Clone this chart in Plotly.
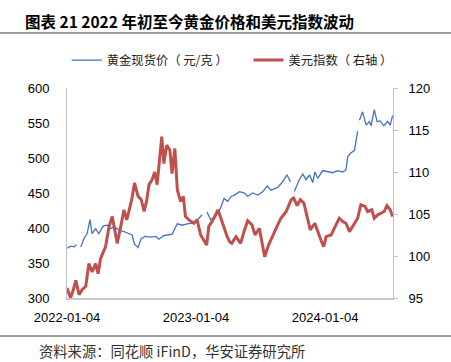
import plotly.graph_objects as go

gold_dates = [
    "2022-01-05", "2022-01-14", "2022-01-24", "2022-01-31", "2022-02-03", "2022-02-12",
    "2022-02-21", "2022-03-02", "2022-03-10", "2022-03-16", "2022-03-26", "2022-04-04",
    "2022-04-17", "2022-04-28", "2022-05-07", "2022-05-17", "2022-05-31", "2022-06-14",
    "2022-06-28", "2022-07-07", "2022-07-14", "2022-07-24", "2022-08-02", "2022-08-14",
    "2022-08-28", "2022-09-12", "2022-09-21", "2022-10-05", "2022-10-14", "2022-10-28",
    "2022-11-12", "2022-11-26", "2022-12-10", "2022-12-24", "2023-01-07", "2023-01-21",
    "2023-01-26", "2023-02-04", "2023-02-14", "2023-02-28", "2023-03-14", "2023-03-24",
    "2023-04-04", "2023-04-13", "2023-04-23", "2023-05-07", "2023-05-21", "2023-05-30",
    "2023-06-13", "2023-06-28", "2023-07-12", "2023-07-24", "2023-08-04", "2023-08-23",
    "2023-09-06", "2023-09-18", "2023-09-28", "2023-10-03", "2023-10-09", "2023-10-23",
    "2023-11-02", "2023-11-11", "2023-11-21", "2023-11-30", "2023-12-06", "2023-12-14",
    "2023-12-28", "2024-01-11", "2024-01-25", "2024-02-09", "2024-02-23", "2024-03-03",
    "2024-03-08", "2024-03-17", "2024-03-27", "2024-04-05", "2024-04-07", "2024-04-10",
    "2024-04-19", "2024-04-29", "2024-05-08", "2024-05-13", "2024-05-22", "2024-05-30",
    "2024-06-08", "2024-06-18", "2024-06-29", "2024-07-06", "2024-07-13",
]
gold_price = [
    371, 374, 373, 376, None, 373,
    385, 392, 412, 392, 399, 392,
    403, 404, 399, 402, 397, 395,
    392, 390, 377, 372, 385, 388,
    387, 388, 384, 389, 390, 391,
    406, 404, 406, 407, 411, 419,
    None, 423, 412, 416, 428, 442,
    438, 445, 447, 452, 450, 445,
    450, 447, 452, 460, 454, 458,
    466, 476, 466, None, 452, 469,
    477, 469, 476, 465, 480, 471,
    482, 480, 479, 482, 480, 483,
    502, 507, 511, 538, None, 554,
    566, 547, 552, 546, 569, 552,
    553, 546, 552, 547, 561,
]

usd_dates = [
    "2022-01-04", "2022-01-14", "2022-01-22", "2022-01-29", "2022-02-07", "2022-02-16",
    "2022-02-26", "2022-03-07", "2022-03-16", "2022-03-26", "2022-04-02", "2022-04-09",
    "2022-04-23", "2022-05-03", "2022-05-12", "2022-05-22", "2022-05-26", "2022-06-05",
    "2022-06-14", "2022-06-22", "2022-06-28", "2022-07-06", "2022-07-14", "2022-07-24",
    "2022-08-02", "2022-08-10", "2022-08-17", "2022-08-24", "2022-09-02", "2022-09-09",
    "2022-09-16", "2022-09-29", "2022-10-05", "2022-10-13", "2022-10-22", "2022-10-28",
    "2022-11-05", "2022-11-12", "2022-11-21", "2022-11-29", "2022-12-05", "2022-12-15",
    "2022-12-29", "2023-01-07", "2023-01-17", "2023-01-26", "2023-02-03", "2023-02-09",
    "2023-02-21", "2023-03-07", "2023-03-19", "2023-04-02", "2023-04-09", "2023-04-15",
    "2023-04-27", "2023-05-10", "2023-05-21", "2023-05-30", "2023-06-11", "2023-06-20",
    "2023-07-02", "2023-07-07", "2023-07-17", "2023-07-28", "2023-08-09", "2023-08-23",
    "2023-09-01", "2023-09-16", "2023-09-30", "2023-10-07", "2023-10-17", "2023-10-26",
    "2023-11-05", "2023-11-14", "2023-11-23", "2023-12-06", "2023-12-14", "2023-12-23",
    "2023-12-31", "2024-01-07", "2024-01-21", "2024-01-30", "2024-02-13", "2024-02-23",
    "2024-03-03", "2024-03-13", "2024-03-27", "2024-04-05", "2024-04-14", "2024-04-26",
    "2024-05-03", "2024-05-15", "2024-05-22", "2024-06-01", "2024-06-10", "2024-06-19",
    "2024-06-27", "2024-07-06", "2024-07-13",
]
usd_index = [
    96.2, 95.0, 96.0, 97.1, 95.4, 96.0,
    96.4, 99.1, 98.1, 99.1, 97.9, 99.7,
    101.1, 103.5, 104.7, 102.7, 101.5, 103.5,
    105.5, 104.3, 105.3, 106.7, 108.7, 107.1,
    106.7, 105.3, 106.5, 108.5, 109.1, 110.0,
    108.5, 114.2, 111.0, 113.2, 112.6, 109.8,
    112.8, 107.9, 106.5, 107.1, 104.7, 104.3,
    103.9, 104.3, 102.5, 101.9, 101.3, 103.5,
    104.3, 105.5, 103.9, 102.3, 101.7, 101.5,
    102.3, 101.5, 103.1, 104.2, 103.7, 102.5,
    103.3, 102.3, 99.9, 101.3, 102.5, 103.7,
    104.5, 105.3, 106.7, 106.9, 106.0, 106.7,
    106.3, 104.7, 103.1, 103.9, 102.9, 101.9,
    101.1, 102.3, 102.5, 103.3, 104.5, 104.1,
    103.9, 102.9, 103.9, 104.5, 106.1, 105.9,
    105.3, 105.5, 104.5, 104.9, 105.1, 105.3,
    106.0, 105.5, 104.7,
]

x_tick_vals = ["2022-01-04", "2023-01-04", "2024-01-04"]
x_tick_text = ["2022-01-04", "2023-01-04", "2024-01-04"]

title_text = "图表 21 2022 年初至今黄金价格和美元指数波动"
source_text = "资料来源：同花顺 iFinD，华安证券研究所"
gold_name = "黄金现货价（ 元/克 ）"
usd_name = "美元指数（ 右轴 ）"

fig = go.Figure()
fig.add_trace(go.Scatter(
    x=gold_dates, y=gold_price, name=gold_name, mode="lines",
    line=dict(color="#4472C4", width=1.3), connectgaps=False, legend="legend",
))
fig.add_trace(go.Scatter(
    x=usd_dates, y=usd_index, name=usd_name, mode="lines",
    line=dict(color="#C0504D", width=3), yaxis="y2", legend="legend2",
))

tick_font = dict(family="Liberation Sans, Arial, sans-serif", size=13, color="#000000")
cjk = "Noto Sans CJK SC, sans-serif"
legend_font = dict(family=cjk, size=12.3, color="#222222")

fig.update_layout(
    width=451, height=362,
    margin=dict(l=67, r=58, t=88, b=64, autoexpand=False),
    paper_bgcolor="white", plot_bgcolor="white",
    showlegend=True,
    legend=dict(
        orientation="h", xref="container", yref="paper",
        x=0.148, y=1.133, xanchor="left", yanchor="middle",
        font=legend_font, bgcolor="rgba(0,0,0,0)",
    ),
    legend2=dict(
        orientation="h", xref="container", yref="paper",
        x=0.551, y=1.133, xanchor="left", yanchor="middle",
        font=legend_font, bgcolor="rgba(0,0,0,0)",
    ),
    xaxis=dict(
        type="date", range=["2022-01-04", "2024-07-14"],
        tickvals=x_tick_vals, ticktext=x_tick_text,
        showgrid=False, zeroline=False,
        showline=True, linecolor="#C8C8C8", linewidth=2,
        ticks="outside", ticklen=6, tickcolor="rgba(0,0,0,0)",
        tickfont=tick_font,
    ),
    yaxis=dict(
        range=[300, 600], dtick=50, showgrid=False, zeroline=False,
        showline=True, linecolor="#BFBFBF", linewidth=1,
        ticks="outside", ticklen=14, tickcolor="rgba(0,0,0,0)",
        tickfont=tick_font,
    ),
    yaxis2=dict(
        range=[95, 120], dtick=5, overlaying="y", side="right",
        showgrid=False, zeroline=False,
        showline=True, linecolor="#BFBFBF", linewidth=1,
        ticks="outside", ticklen=4, tickcolor="#BFBFBF",
        tickfont=tick_font, ticklabelstandoff=8,
    ),
    shapes=[
        dict(type="line", xref="paper", yref="paper", x0=-0.2055, x1=1.178,
             y0=1.262, y1=1.262, line=dict(color="#404040", width=1)),
        dict(type="line", xref="paper", yref="paper", x0=-0.2055, x1=1.178,
             y0=-0.181, y1=-0.181, line=dict(color="#404040", width=1)),
    ],
    annotations=[
        dict(text="<b>" + title_text + "</b>", xref="paper", yref="paper",
             x=-0.135, y=1.32, xanchor="left", yanchor="middle", showarrow=False,
             font=dict(family=cjk, size=15.5, color="#000000")),
        dict(text=source_text, xref="paper", yref="paper",
             x=-0.092, y=-0.248, xanchor="left", yanchor="middle", showarrow=False,
             font=dict(family=cjk, size=14.3, color="#333333")),
    ],
)

fig.write_html("out.html", config={"displayModeBar": False},
               post_script="document.body.style.margin='0';")
